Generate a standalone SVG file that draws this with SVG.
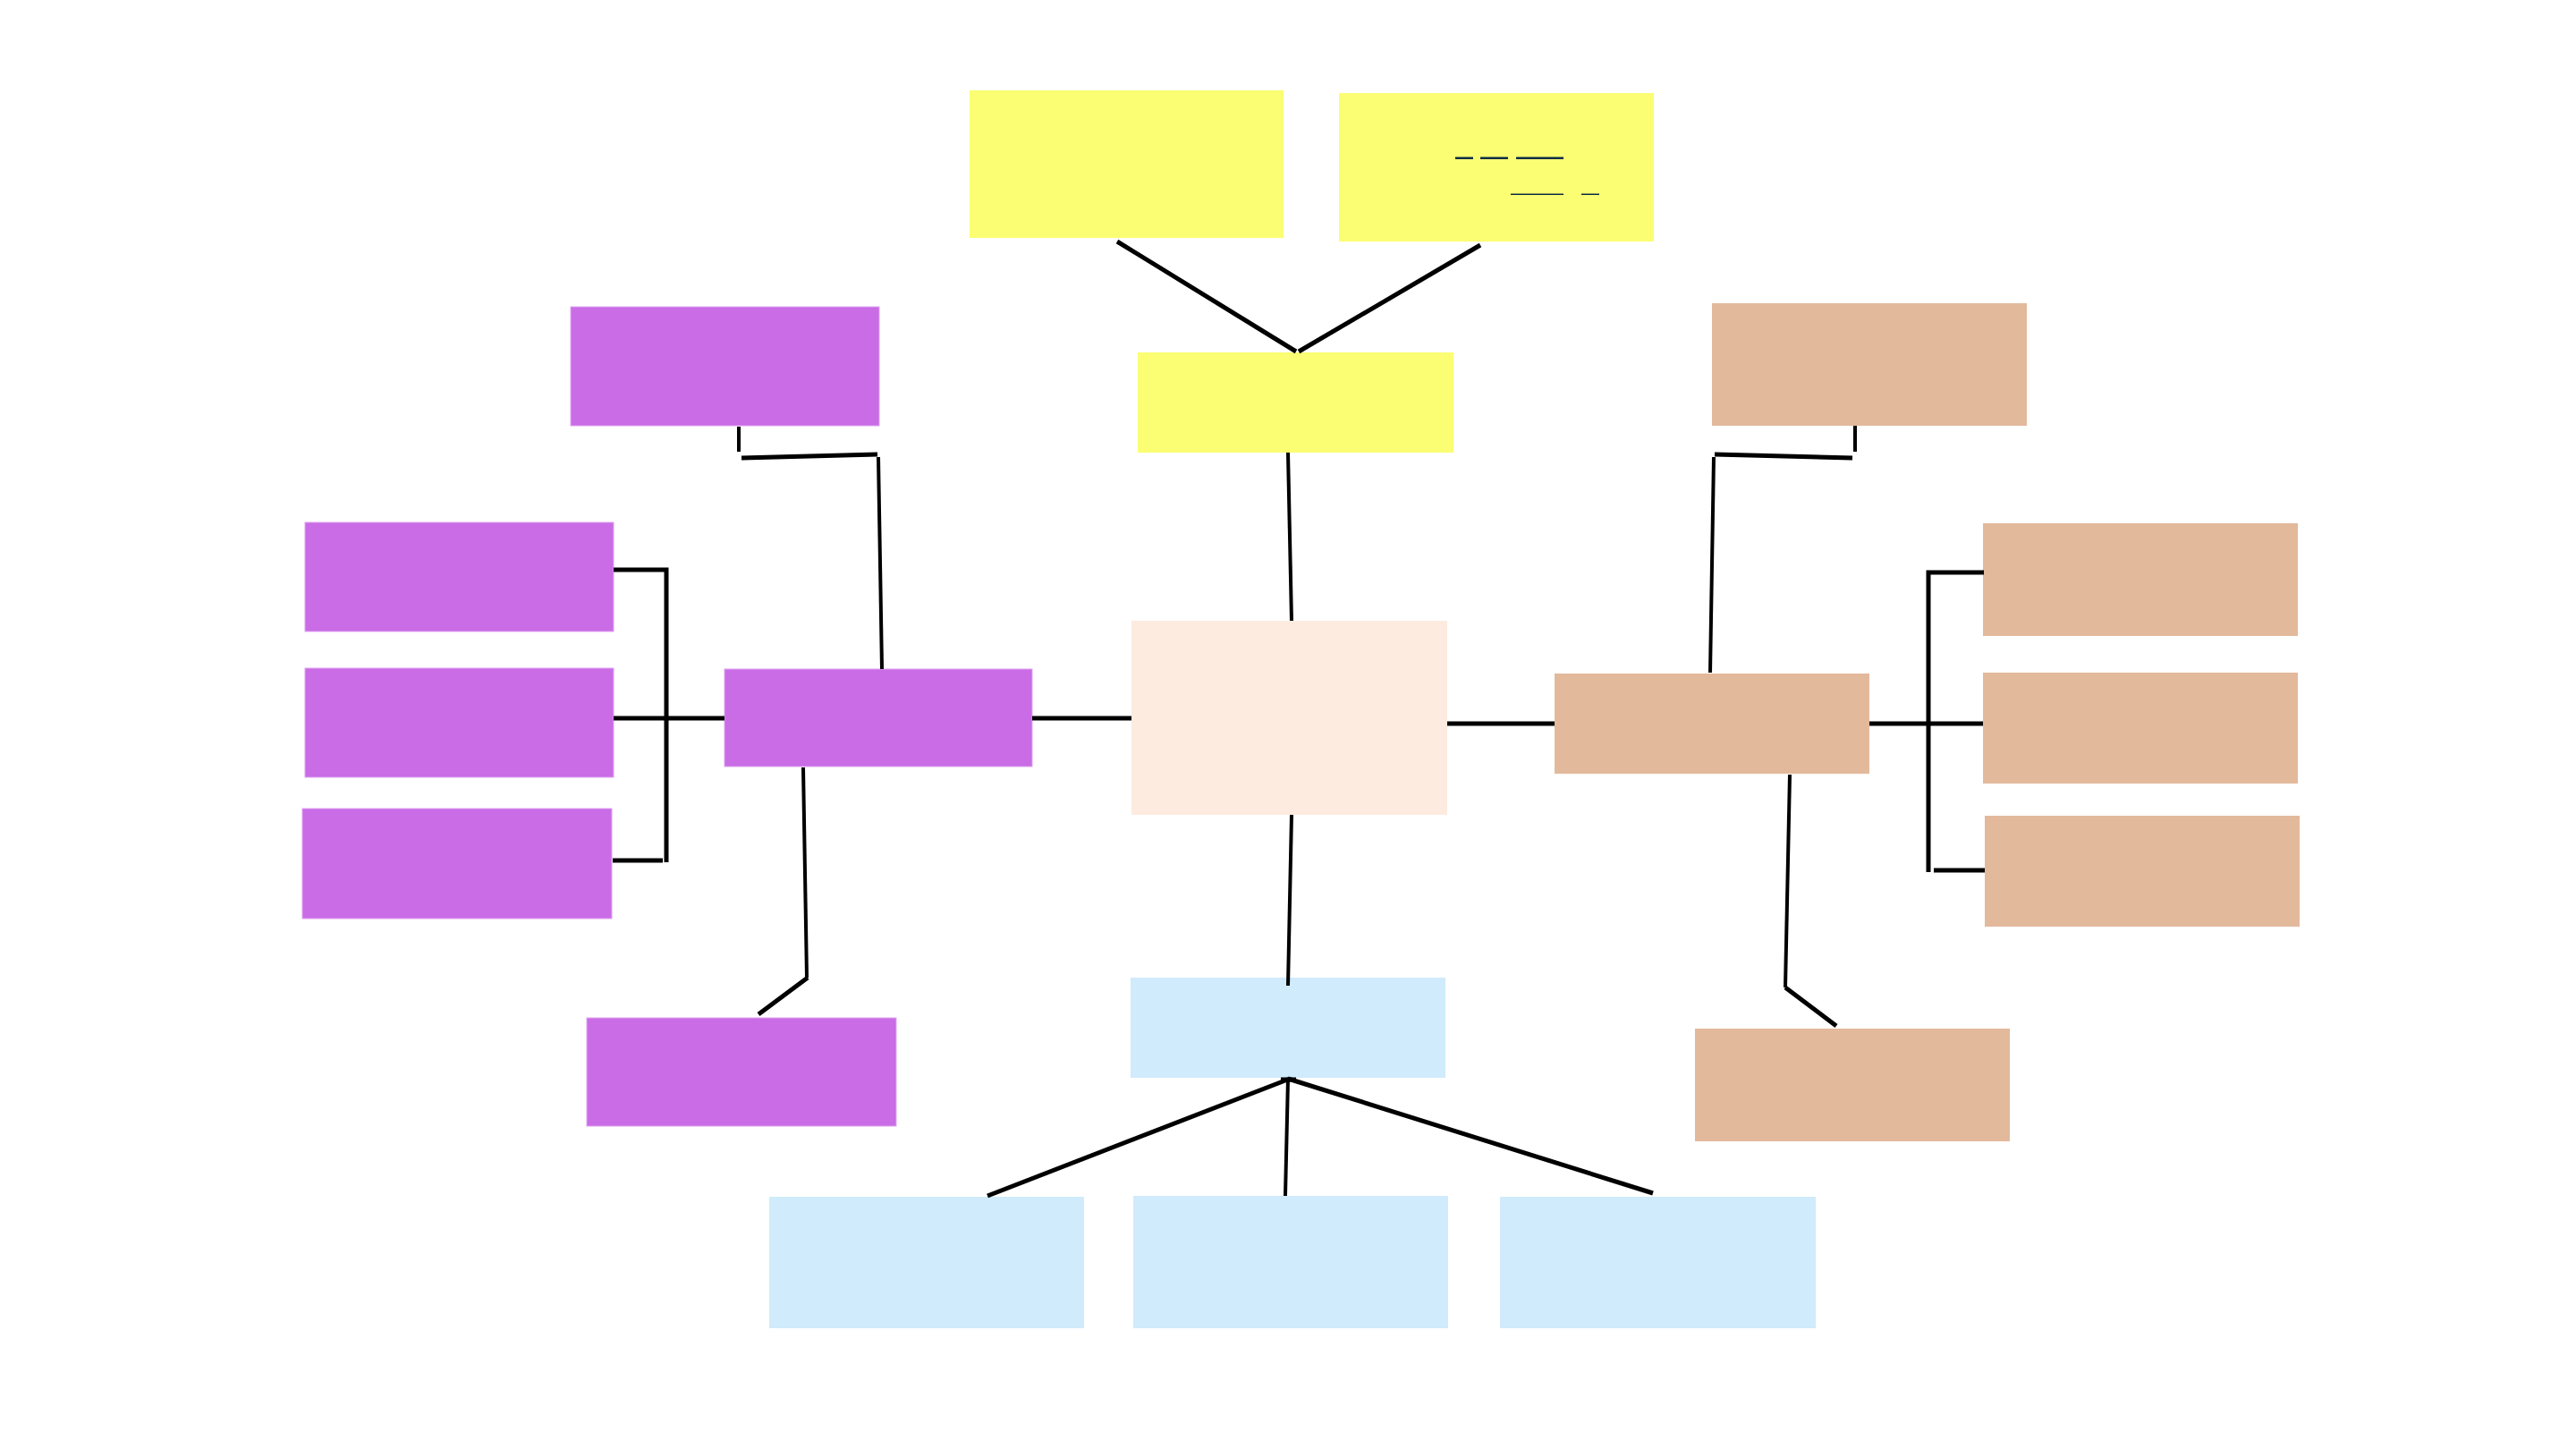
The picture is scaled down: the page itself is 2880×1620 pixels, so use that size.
<svg xmlns="http://www.w3.org/2000/svg" width="2880" height="1620" viewBox="0 0 2880 1620">
<style>
.y{fill:#fbfe72}
.p{fill:#c96ce5;stroke:#dfa3f2;stroke-width:1}
.o{fill:#e3b99c}
.b{fill:#d0ebfb}
.c{fill:#fdebe0}
.ln{stroke:#000;stroke-width:5;fill:none;stroke-linecap:butt}
.thin{stroke-width:4}
.dash{fill:#0b2d45}
</style>
<rect width="2880" height="1620" fill="#fff"/>
<g id="yellow-top-left"><rect class="y" x="1084" y="101" width="351" height="165"/></g>
<g id="yellow-top-right"><rect class="y" x="1497" y="104" width="352" height="166"/>
<rect class="dash" x="1627" y="175.5" width="20" height="2.5"/>
<rect class="dash" x="1655" y="175.5" width="31" height="2.5"/>
<rect class="dash" x="1695" y="175.5" width="53" height="2.5"/>
<rect class="dash" x="1689" y="216.5" width="59" height="1.5"/>
<rect class="dash" x="1768" y="216.5" width="20" height="1.5"/>
</g>
<g id="yellow-main"><rect class="y" x="1272" y="394" width="353" height="112"/></g>
<g id="center"><rect class="c" x="1265" y="694" width="353" height="217"/></g>
<g id="purple-top"><rect class="p" x="638" y="343" width="345" height="133"/></g>
<g id="purple-main"><rect class="p" x="810" y="748" width="344" height="109"/></g>
<g id="purple-l1"><rect class="p" x="341" y="584" width="345" height="122"/></g>
<g id="purple-l2"><rect class="p" x="341" y="747" width="345" height="122"/></g>
<g id="purple-l3"><rect class="p" x="338" y="904" width="346" height="123"/></g>
<g id="purple-bottom"><rect class="p" x="656" y="1138" width="346" height="121"/></g>
<g id="peach-top"><rect class="o" x="1914" y="339" width="352" height="137"/></g>
<g id="peach-main"><rect class="o" x="1738" y="753" width="352" height="112"/></g>
<g id="peach-r1"><rect class="o" x="2217" y="585" width="352" height="126"/></g>
<g id="peach-r2"><rect class="o" x="2217" y="752" width="352" height="124"/></g>
<g id="peach-r3"><rect class="o" x="2219" y="912" width="352" height="124"/></g>
<g id="peach-bottom"><rect class="o" x="1895" y="1150" width="352" height="126"/></g>
<g id="blue-main"><rect class="b" x="1264" y="1093" width="352" height="112"/></g>
<g id="blue-1"><rect class="b" x="860" y="1338" width="352" height="147"/></g>
<g id="blue-2"><rect class="b" x="1267" y="1337" width="352" height="148"/></g>
<g id="blue-3"><rect class="b" x="1677" y="1338" width="353" height="147"/></g>
<g id="connectors">
<line class="ln" x1="1249" y1="270" x2="1449" y2="393"/>
<line class="ln" x1="1655" y1="274" x2="1452" y2="393"/>
<line class="ln thin" x1="1440" y1="506" x2="1444" y2="694"/>
<line class="ln thin" x1="1444" y1="911" x2="1440" y2="1102"/>
<line class="ln" x1="1442" y1="1206" x2="1104" y2="1337"/>
<line class="ln thin" x1="1440" y1="1206" x2="1437" y2="1337"/>
<line class="ln" x1="1440" y1="1206" x2="1848" y2="1334"/>
<line class="ln" x1="1432" y1="1207" x2="1449" y2="1207"/>
<line class="ln" x1="1154" y1="803" x2="1265" y2="803"/>
<line class="ln" x1="1618" y1="809" x2="1738" y2="809"/>
<line class="ln thin" x1="826" y1="477" x2="826" y2="505"/>
<line class="ln" x1="829" y1="512" x2="981" y2="508"/>
<line class="ln thin" x1="982" y1="511" x2="986" y2="748"/>
<line class="ln thin" x1="898" y1="858" x2="902" y2="1093"/>
<line class="ln" x1="903" y1="1093" x2="848" y2="1134"/>
<polyline class="ln" points="686,637 745,637 745,964"/>
<line class="ln" x1="741" y1="962" x2="685" y2="962"/>
<line class="ln" x1="686" y1="803" x2="810" y2="803"/>
<line class="ln thin" x1="2074" y1="476" x2="2074" y2="505"/>
<line class="ln" x1="1917" y1="508" x2="2071" y2="512"/>
<line class="ln thin" x1="1916" y1="511" x2="1912" y2="752"/>
<line class="ln thin" x1="2001" y1="866" x2="1996" y2="1104"/>
<line class="ln" x1="1996" y1="1104" x2="2053" y2="1147"/>
<polyline class="ln" points="2218,640 2156,640 2156,975"/>
<line class="ln" x1="2162" y1="973" x2="2219" y2="973"/>
<line class="ln" x1="2090" y1="809" x2="2217" y2="809"/>
</g>
</svg>
